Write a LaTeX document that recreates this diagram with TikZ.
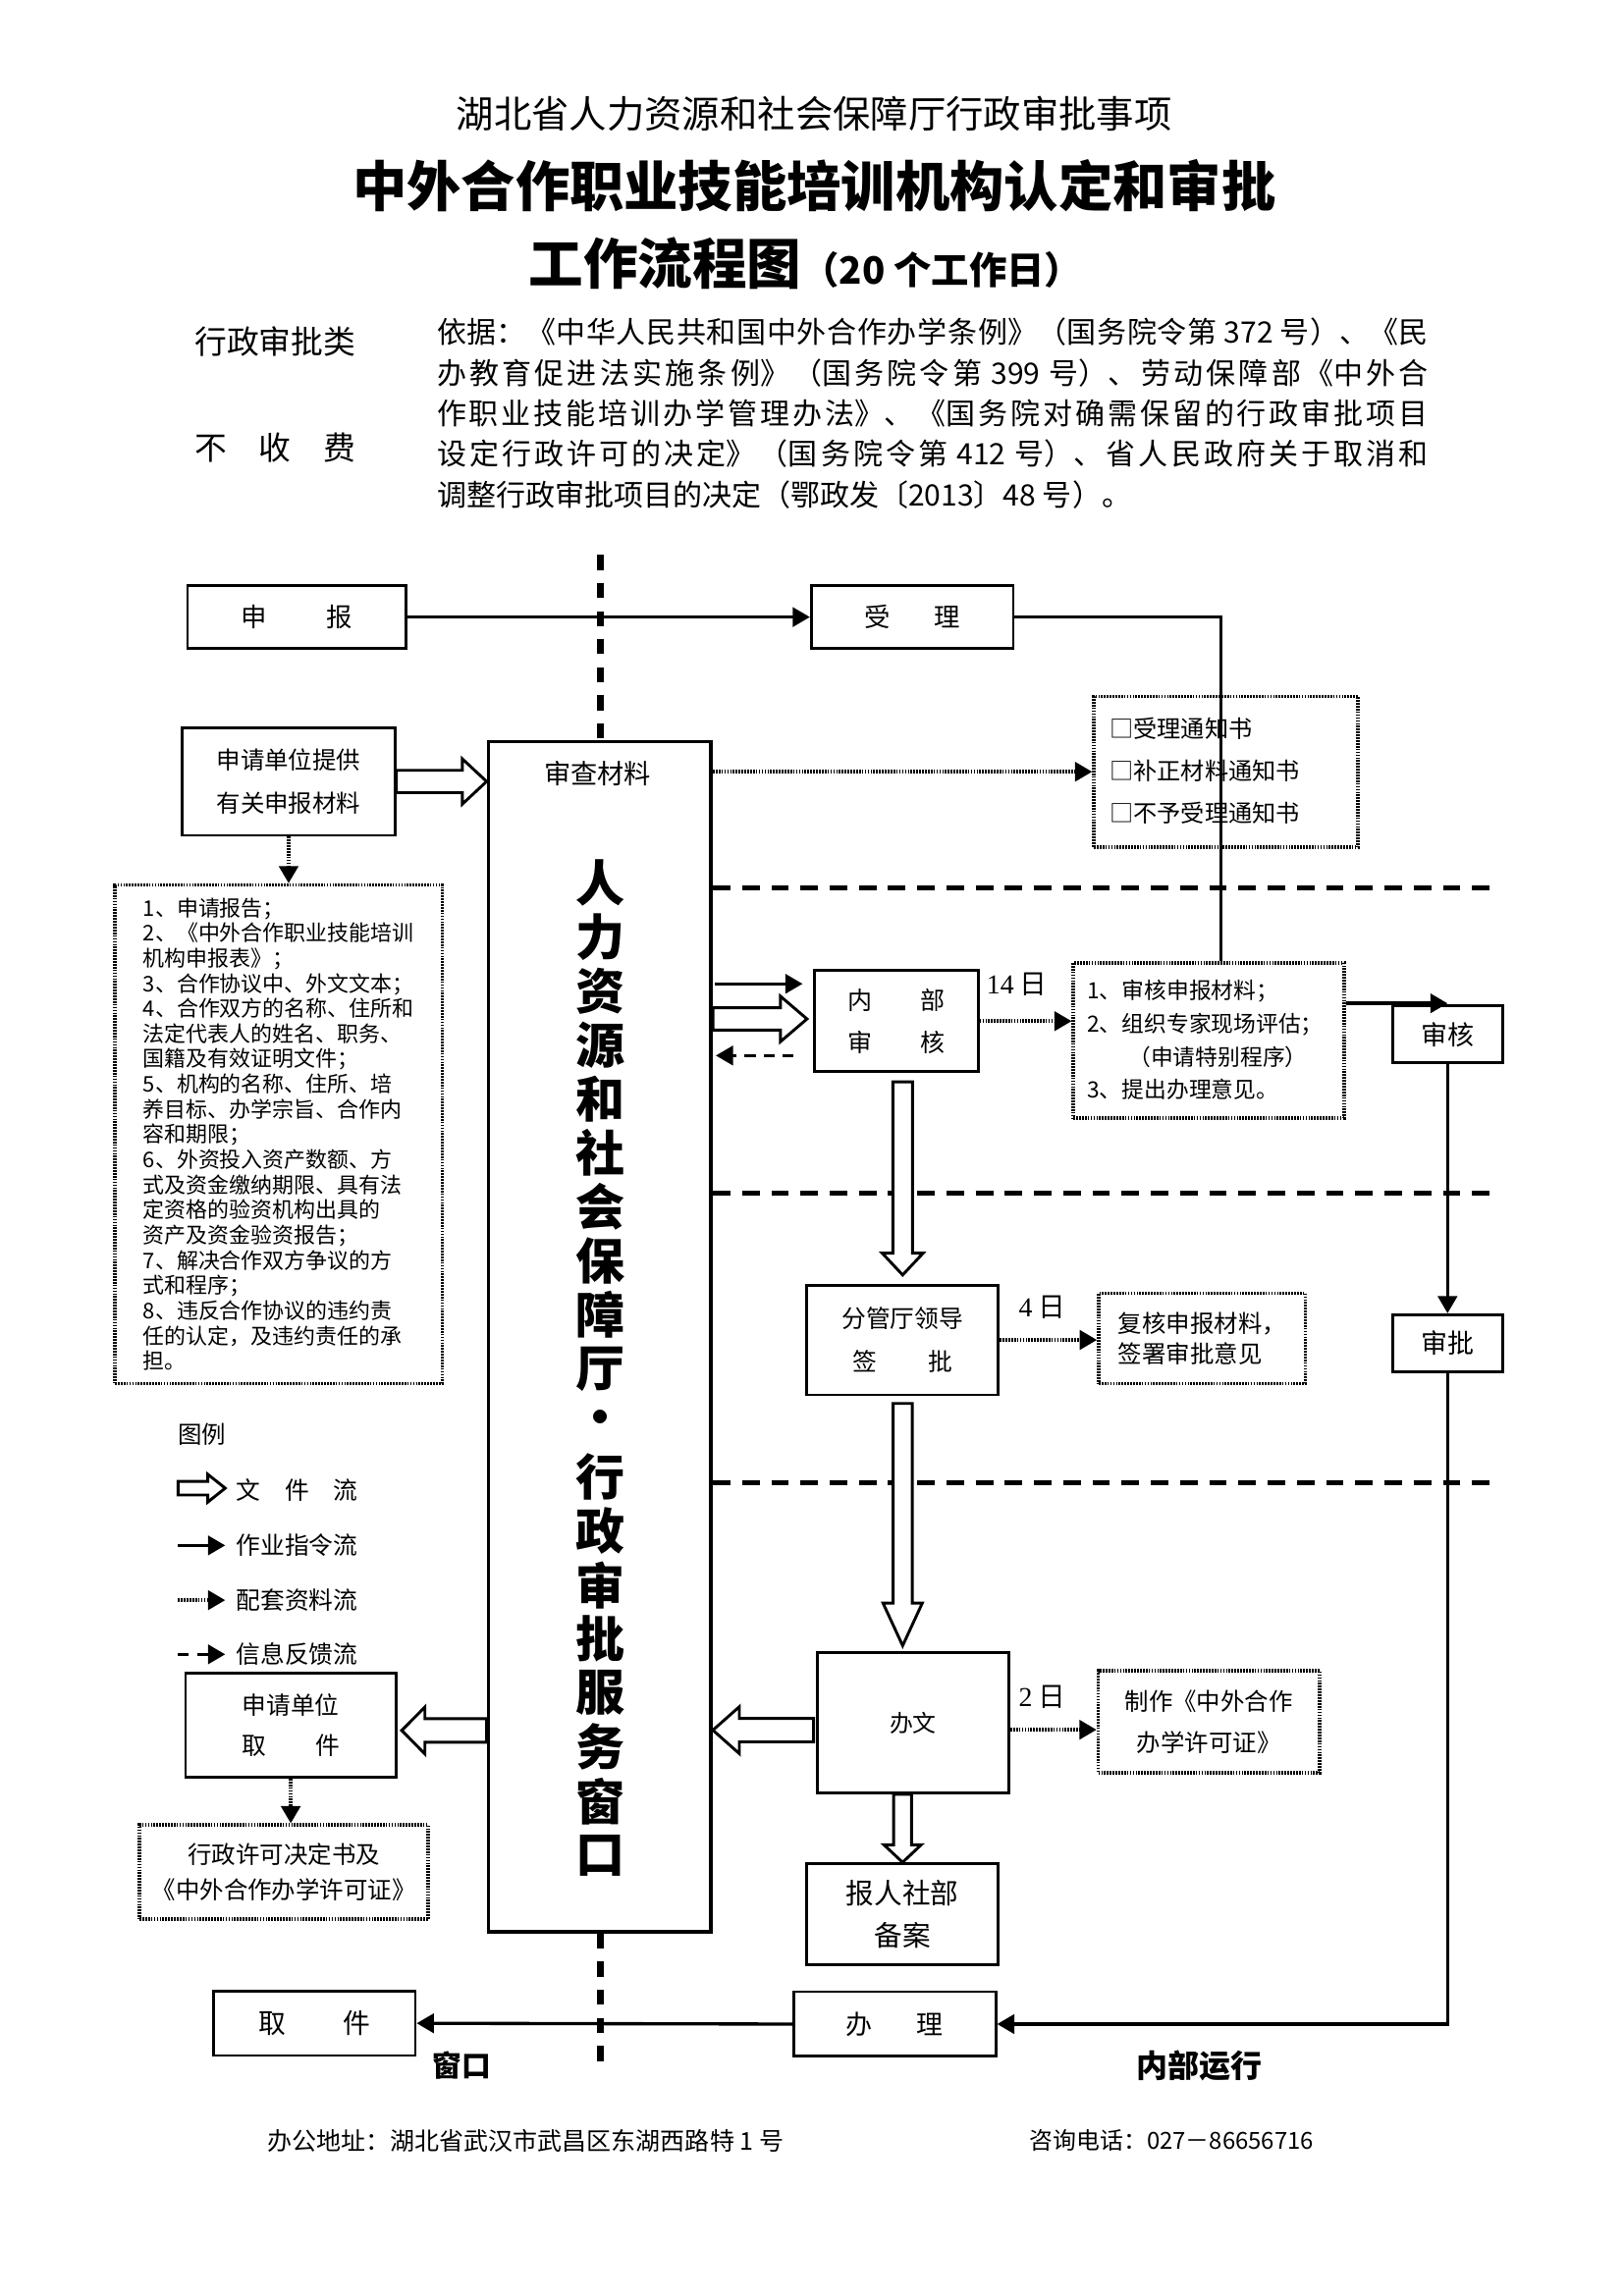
\documentclass[tikz,border=0pt]{standalone}
\usepackage{fontspec}
\setmainfont{Noto Sans CJK SC}
\newfontfamily\serifd{Liberation Serif}
\usetikzlibrary{arrows.meta,calc}
\XeTeXlinebreaklocale "zh"
\XeTeXlinebreakskip=0pt plus 1.5pt
\def\U{0.5366pt}
\newcommand{\fs}[2]{\fontsize{#1}{#2}\selectfont}
\newcommand{\bx}[8][box]{\node[#1,font={#7},minimum width={(#4-#2)*\U},minimum height={(#5-#3)*\U}] (#6) at ({(#2+#4)/2},{(#3+#5)/2}) {#8};}
\newcommand{\harrow}[6][]{%
  \draw[hollow,#1] let \p1=(#2), \p2=(#3), \n1={veclen(\x2-\x1,\y2-\y1)}, \n2={atan2(\y2-\y1,\x2-\x1)} in
  [shift={(\p1)}, rotate=\n2] (0pt,#4) -- ({\n1-#6},#4) -- ({\n1-#6},#5) -- (\n1,0pt) -- ({\n1-#6},-#5) -- ({\n1-#6},-#4) -- (0pt,-#4) -- cycle;}
\newcommand{\jline}[1]{\parfillskip=0pt\relax #1\par}
\tikzset{
  box/.style={draw,line width=1pt,inner sep=0pt,align=center},
  dbox/.style={draw,line width=1.3pt,dash pattern=on 0.6pt off 0.45pt,inner sep=0pt,align=center},
  tip/.style={-{Triangle[length=6.3pt,width=7pt]}},
  solidarr/.style={line width=1.2pt,tip},
  dotarr/.style={line width=1.3pt,dash pattern=on 0.6pt off 0.45pt,tip},
  dasharr/.style={line width=1.2pt,dash pattern=on 4pt off 3pt,tip},
  hollow/.style={draw,line width=1.05pt,fill=white,line join=miter},
  sep/.style={line width=1.8pt,dash pattern=on 6.4pt off 4.3pt},
  vsep/.style={line width=2.4pt,dash pattern=on 5.5pt off 4.8pt},
  lgd/.style={anchor=west,inner sep=0pt,font=\fs{8.9pt}{11pt}},
  para/.style={anchor=west,inner sep=0pt,text width=363.3pt,align=justify,font=\fs{10.8pt}{13pt}},
  lbl/.style={inner sep=0pt,font=\fs{10pt}{12pt}},
  vt/.style={inner sep=0pt,font=\fs{18pt}{20pt}\bfseries}
}
\begin{document}
\begin{tikzpicture}[x=0.5366pt,y=-0.5366pt]
\useasboundingbox (0,0) rectangle (1109,1568.3);
\fill[white] (0,0) rectangle (1109,1568.3);

% ---------- header ----------
\node[inner sep=0pt,font=\fs{13.8pt}{16pt}] (h0) at (556,78) {湖北省人力资源和社会保障厅行政审批事项};
\node[inner sep=0pt,font=\fs{19.9pt}{24pt}\bfseries] (h1) at (556,127) {中外合作职业技能培训机构认定和审批};
\node[inner sep=0pt,font=\fs{20pt}{24pt}\bfseries] (h2) at (550,180) {工作流程图{\fs{13.8pt}{16pt}（20 个工作日）}};
\node[inner sep=0pt,font=\fs{11.8pt}{14pt}] (lc1) at (188,233) {行政审批类};
\node[inner sep=0pt,font=\fs{11.8pt}{14pt}] (lc2) at (188,306) {不　收　费};
\node[para] (p1) at (298,227) {\jline{依据：《中华人民共和国中外合作办学条例》（国务院令第 372 号）、《民}};
\node[para] (p2) at (298,254.7) {\jline{办教育促进法实施条例》（国务院令第 399 号）、劳动保障部《中外合}};
\node[para] (p3) at (298,282.4) {\jline{作职业技能培训办学管理办法》、《国务院对确需保留的行政审批项目}};
\node[para] (p4) at (298,310.1) {\jline{设定行政许可的决定》（国务院令第 412 号）、省人民政府关于取消和}};
\node[anchor=west,inner sep=0pt,font=\fs{10.8pt}{13pt}] (p5) at (298,337.8) {调整行政审批项目的决定（鄂政发〔2013〕48 号）。};

% ---------- separators ----------
\coordinate (vtop) at (410,379);
\coordinate (vbot) at (410,1408);
\coordinate (s1) at (1022,606.4);
\coordinate (s2) at (1022,815);
\coordinate (s3) at (1022,1013);

% ---------- boxes ----------
\bx{128}{400}{277}{443}{shenbao}{\fs{9.5pt}{12pt}}{申\hspace{22pt}报}
\bx{554}{400}{692}{443}{shouli}{\fs{9.5pt}{12pt}}{受\hspace{16pt}理}
\bx{124.5}{497}{269.7}{570.6}{tigong}{\fs{8.8pt}{15.6pt}}{申请单位提供\\有关申报材料}
\bx[dbox,align=left]{78.5}{604.5}{302}{945}{list}{\fs{7.9pt}{9.23pt}}{1、申请报告；\\2、《中外合作职业技能培训\\机构申报表》；\\3、合作协议中、外文文本；\\4、合作双方的名称、住所和\\法定代表人的姓名、职务、\\国籍及有效证明文件；\\5、机构的名称、住所、培\\养目标、办学宗旨、合作内\\容和期限；\\6、外资投入资产数额、方\\式及资金缴纳期限、具有法\\定资格的验资机构出具的\\资产及资金验资报告；\\7、解决合作双方争议的方\\式和程序；\\8、违反合作协议的违约责\\任的认定，及违约责任的承\\担。}
\bx[box,line width=1.3pt]{333.5}{506.5}{485.6}{1319.5}{big}{}{}
\draw[vsep] (vtop) -- (vtop |- big.north);
\draw[vsep] (vtop |- big.south) -- (vbot);
\node[inner sep=0pt,font=\fs{9.8pt}{12pt}] (scl) at (408,528.6) {审查材料};
\foreach \c [count=\i from 0] in {人,力,资,源,和,社,会,保,障,厅,•,行,政,审,批,服,务,窗,口}
  \node[vt] (v\i) at (410,{603+36.9*\i}) {\c};

\bx[dbox]{747}{475.6}{927.4}{578.7}{notice}{}{}
\node[anchor=west,align=left,inner sep=0pt,font=\fs{8.7pt}{15.4pt}] (noticetxt) at (757.5,526.6) {□受理通知书\\□补正材料通知书\\□不予受理通知书};

\draw[sep] (s1 -| big.east) -- (s1);
\draw[sep] (s2 -| big.east) -- (s2);
\draw[sep] (s3 -| big.east) -- (s3);

\bx{556}{663}{668}{732}{neibu}{\fs{9pt}{15.6pt}}{内\hspace{17.8pt}部\\审\hspace{17.8pt}核}
\bx[dbox]{733}{657.6}{917.7}{763.5}{box1}{}{}
\node[anchor=west,align=left,inner sep=0pt,font=\fs{8.2pt}{12.1pt}] (box1txt) at (742,710.5) {1、审核申报材料；\\2、组织专家现场评估；\\\hspace*{1.85em}（申请特别程序）\\3、提出办理意见。};
\bx{951}{687}{1026}{726}{shenhe}{\fs{9.7pt}{12pt}}{审核}
\bx{951}{898}{1026}{937}{shenpi}{\fs{9.7pt}{12pt}}{审批}
\bx{551}{877.8}{681.8}{952.7}{fenguan}{\fs{8.9pt}{15.9pt}}{分管厅领导\\签\hspace{18.5pt}批}
\bx[dbox,align=left]{750.3}{883.5}{891.5}{945}{fuhe}{\fs{8.8pt}{11.3pt}}{复核申报材料，\\签署审批意见}
\bx{558}{1129}{689}{1224.6}{banwen}{\fs{8.6pt}{11pt}}{办文}
\bx[dbox]{750}{1141}{901}{1211}{zhizuo}{\fs{8.8pt}{15.1pt}}{制作《中外合作\\办学许可证》}
\bx{551}{1273}{681.7}{1342}{baorenshe}{\fs{10.3pt}{15.3pt}}{报人社部\\备案}
\bx{542}{1360.5}{680}{1404.6}{banli}{\fs{9.7pt}{12pt}}{办\hspace{16.3pt}理}
\bx{146}{1360}{283.6}{1404}{qujian}{\fs{10pt}{12pt}}{取\hspace{21pt}件}
\bx{126.7}{1143}{270.4}{1214}{sqqj}{\fs{8.9pt}{14.8pt}}{申请单位\\取\hspace{18pt}件}
\bx[dbox]{95.3}{1246.6}{292.5}{1311}{xuke}{\fs{8.8pt}{12.9pt}}{行政许可决定书及\\《中外合作办学许可证》}

% ---------- labels ----------
\node[lbl] (d14) at (694.5,672) {{\serifd 14} 日};
\node[lbl] (d4) at (711.8,893) {{\serifd 4} 日};
\node[lbl] (d2) at (711.8,1159) {{\serifd 2} 日};
\node[inner sep=0pt,font=\fs{10.7pt}{12pt}\bfseries] (win) at (315.6,1411) {窗口};
\node[inner sep=0pt,font=\fs{11.5pt}{13pt}\bfseries] (inner) at (819,1411) {内部运行};

% ---------- connectors ----------
\draw[solidarr] (shenbao.east) -- (shouli.west);
\coordinate (c1) at (833.8,0);
\draw[line width=1.2pt] (shouli.east) -| (c1 |- box1.north);
\harrow{tigong.east}{tigong.east -| big.west}{4.1pt}{8.3pt}{8.9pt}
\draw[dotarr] (tigong.south) -- (tigong.south |- list.north);
\draw[dotarr] (notice.west -| big.east) -- (notice.west);
\draw[solidarr] ($(neibu.west -| big.east)+(1,-25.5)$) -- ($(neibu.west)+(-7,-25.5)$);
\harrow{$(neibu.west -| big.east)+(0,-1.5)$}{$(neibu.west)+(-4,-1.5)$}{4.1pt}{8.3pt}{9.7pt}
\draw[dasharr] ($(neibu.west)+(-13,23.5)$) -- ($(neibu.west -| big.east)+(2,23.5)$);
\draw[dotarr] (neibu.east) -- (neibu.east -| box1.west);
\coordinate (a1) at ($(box1.east)+(0,-25.2)$);
\draw[solidarr] (a1) -- (a1 -| shenhe.north);
\draw[solidarr] (shenhe.south) -- (shenpi.north);
\draw[solidarr] (shenpi.south) |- (banli.east);
\draw[solidarr] (banli.west) -- (qujian.east);
\harrow{$(neibu.south -| fenguan.north)+(0,6)$}{$(fenguan.north)+(0,-6)$}{3.6pt}{7.5pt}{8pt}
\draw[dotarr] (fenguan.east) -- (fenguan.east -| fuhe.west);
\harrow{$(fenguan.south)+(0,5)$}{$(banwen.north -| fenguan.south)+(0,-4)$}{3.5pt}{7.2pt}{15.6pt}
\draw[dotarr] ($(banwen.east)+(0,4.7)$) -- ($(banwen.east -| zhizuo.west)+(0,4.7)$);
\harrow{$(banwen.west)+(-1.5,5)$}{$(banwen.west -| big.east)+(0,5)$}{4.3pt}{8.6pt}{9.7pt}
\harrow{banwen.south -| baorenshe.north}{baorenshe.north}{3.3pt}{6.8pt}{6.4pt}
\harrow{$(sqqj.east -| big.west)+(0,3.5)$}{$(sqqj.east)+(3,3.5)$}{4.3pt}{8.6pt}{8.5pt}
\draw[dotarr] (sqqj.south) -- (sqqj.south |- xuke.north);

% ---------- legend ----------
\node[inner sep=0pt,font=\fs{8.8pt}{11pt}] (lg) at (138,980) {图例};
\coordinate (L1a) at (121.6,1016.5); \coordinate (L1b) at (153.8,1016.5);
\harrow{L1a}{L1b}{2.5pt}{5.1pt}{6.4pt}
\node[lgd] (L1t) at (161,1018) {文　件　流};
\coordinate (L2a) at (121.6,1055.6); \coordinate (L2b) at (153.8,1055.6);
\draw[solidarr] (L2a) -- (L2b);
\node[lgd] (L2t) at (161,1055.6) {作业指令流};
\coordinate (L3a) at (121.6,1093); \coordinate (L3b) at (153.8,1093);
\draw[dotarr] (L3a) -- (L3b);
\node[lgd] (L3t) at (161,1093) {配套资料流};
\coordinate (L4a) at (121.6,1130); \coordinate (L4b) at (153.8,1130);
\draw[dasharr] (L4a) -- (L4b);
\node[lgd] (L4t) at (161,1130) {信息反馈流};

% ---------- footer ----------
\node[anchor=west,inner sep=0pt,font=\fs{9pt}{11pt}] (addr) at (182.5,1462) {办公地址：湖北省武汉市武昌区东湖西路特 1 号};
\node[anchor=west,inner sep=0pt,font=\fs{8.6pt}{11pt}] (tel) at (702.7,1462) {咨询电话：027－86656716};
\end{tikzpicture}
\end{document}
